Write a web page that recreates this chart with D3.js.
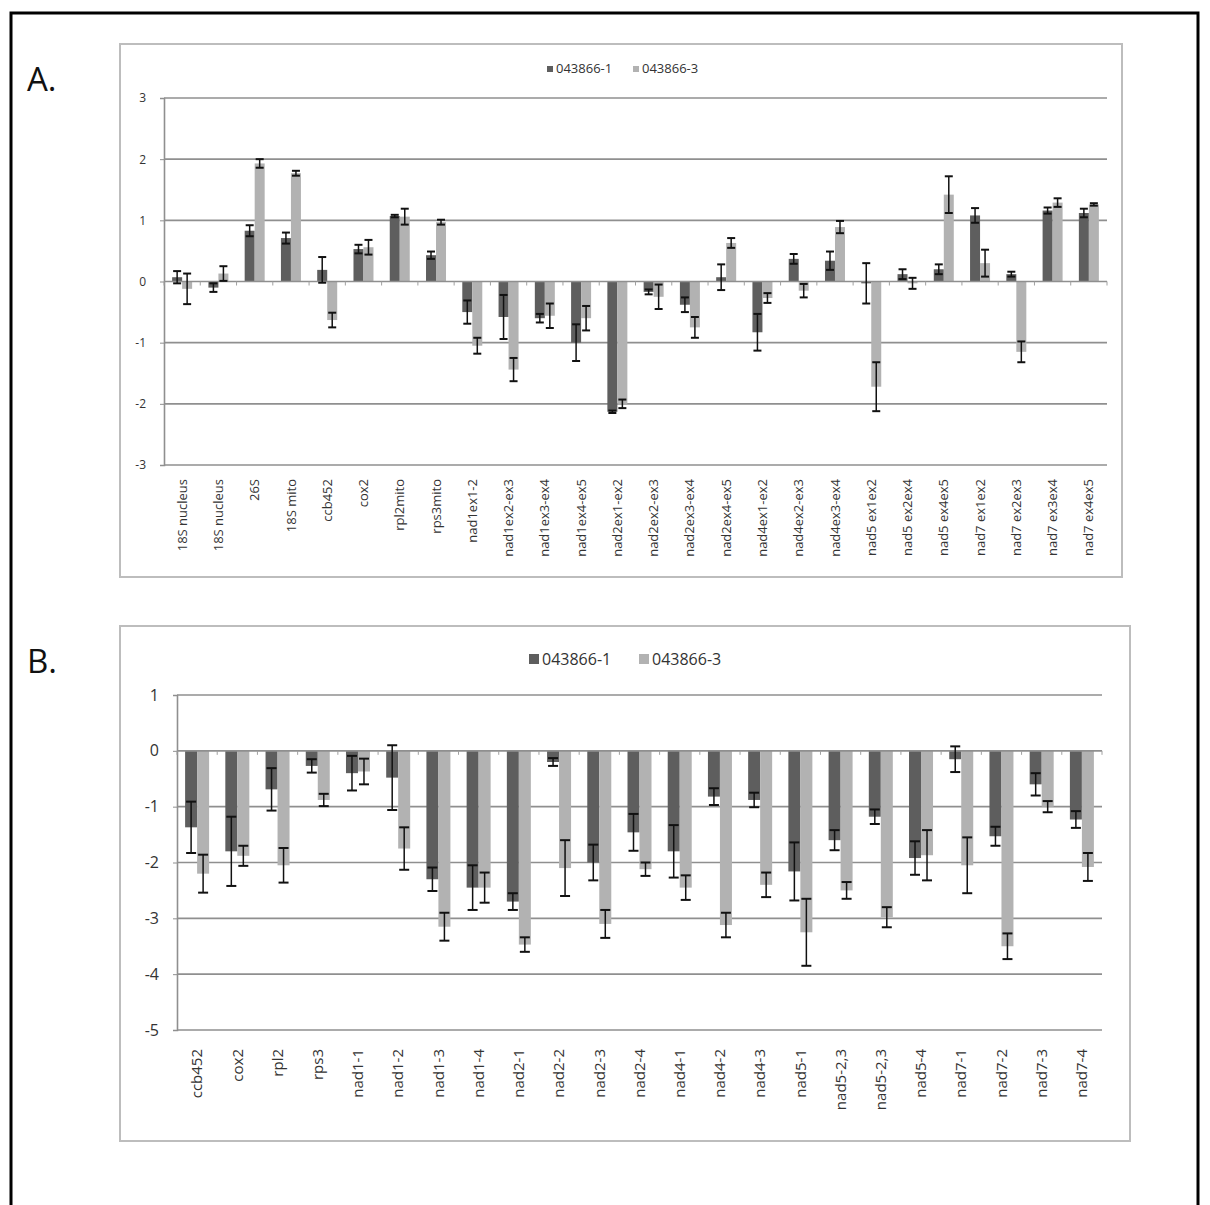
<!DOCTYPE html>
<html>
<head>
<meta charset="utf-8">
<script src="https://cdn.jsdelivr.net/npm/d3@7"></script>
<style>
  body { margin: 0; background: #fff; }
  svg { display: block; }
  text { font-family: "Open Sans", "Noto Sans", sans-serif; fill: #333; }
</style>
</head>
<body>
<div id="fig"></div>
<script>
'use strict';

// ---- data, panel A ----
var seriesNames = ['043866-1', '043866-3'];

var catsA = ['18S nucleus', '18S nucleus', '26S', '18S mito', 'ccb452', 'cox2', 'rpl2mito', 'rps3mito',
  'nad1ex1-2', 'nad1ex2-ex3', 'nad1ex3-ex4', 'nad1ex4-ex5', 'nad2ex1-ex2', 'nad2ex2-ex3', 'nad2ex3-ex4',
  'nad2ex4-ex5', 'nad4ex1-ex2', 'nad4ex2-ex3', 'nad4ex3-ex4', 'nad5 ex1ex2', 'nad5 ex2ex4', 'nad5 ex4ex5',
  'nad7 ex1ex2', 'nad7 ex2ex3', 'nad7 ex3ex4', 'nad7 ex4ex5'];
var darkA = [0.07, -0.1, 0.83, 0.71, 0.19, 0.53, 1.07, 0.43, -0.5, -0.58, -0.6, -1.0, -2.13, -0.17, -0.38,
  0.07, -0.83, 0.37, 0.34, -0.03, 0.12, 0.2, 1.08, 0.12, 1.16, 1.12];
var darkErrA = [0.1, 0.07, 0.09, 0.09, 0.21, 0.07, 0.02, 0.06, 0.19, 0.36, 0.07, 0.3, 0.02, 0.04, 0.12,
  0.21, 0.3, 0.08, 0.15, 0.33, 0.08, 0.08, 0.12, 0.04, 0.05, 0.07];
var lightA = [-0.12, 0.13, 1.93, 1.77, -0.63, 0.56, 1.06, 0.97, -1.05, -1.44, -0.56, -0.6, -2.0, -0.25, -0.75,
  0.63, -0.27, -0.15, 0.89, -1.72, -0.03, 1.42, 0.3, -1.15, 1.29, 1.26];
var lightErrA = [0.25, 0.12, 0.07, 0.04, 0.12, 0.12, 0.13, 0.04, 0.13, 0.19, 0.2, 0.2, 0.07, 0.2, 0.17,
  0.08, 0.08, 0.11, 0.1, 0.4, 0.09, 0.3, 0.22, 0.17, 0.07, 0.02];
var ticksA = [-3, -2, -1, 0, 1, 2, 3];

// ---- data, panel B ----
var catsB = ['ccb452', 'cox2', 'rpl2', 'rps3', 'nad1-1', 'nad1-2', 'nad1-3', 'nad1-4', 'nad2-1', 'nad2-2',
  'nad2-3', 'nad2-4', 'nad4-1', 'nad4-2', 'nad4-3', 'nad5-1', 'nad5-2,3', 'nad5-2,3', 'nad5-4', 'nad7-1',
  'nad7-2', 'nad7-3', 'nad7-4'];
var darkB = [-1.37, -1.8, -0.69, -0.27, -0.4, -0.48, -2.3, -2.45, -2.7, -0.2, -2.0, -1.46, -1.8, -0.82,
  -0.88, -2.16, -1.6, -1.18, -1.92, -0.15, -1.53, -0.6, -1.23];
var darkErrB = [0.46, 0.62, 0.38, 0.12, 0.31, 0.58, 0.21, 0.4, 0.15, 0.07, 0.32, 0.33, 0.47, 0.15,
  0.13, 0.52, 0.18, 0.13, 0.3, 0.23, 0.17, 0.2, 0.15];
var lightB = [-2.2, -1.88, -2.05, -0.88, -0.37, -1.75, -3.15, -2.45, -3.47, -2.1, -3.1, -2.12, -2.45, -3.12,
  -2.4, -3.25, -2.5, -2.98, -1.87, -2.05, -3.5, -1.0, -2.08];
var lightErrB = [0.34, 0.18, 0.31, 0.11, 0.23, 0.38, 0.25, 0.27, 0.13, 0.5, 0.25, 0.12, 0.22, 0.22,
  0.22, 0.6, 0.15, 0.18, 0.45, 0.5, 0.23, 0.1, 0.25];
var ticksB = [-5, -4, -3, -2, -1, 0, 1];

var colors = ['#5e5e5e', '#b2b2b2'];

var svg = d3.select('#fig').append('svg')
  .attr('width', 1210)
  .attr('height', 1205);

// outer black frame
svg.append('rect')
  .attr('x', 11).attr('y', 13)
  .attr('width', 1187).attr('height', 1210)
  .attr('fill', 'none')
  .attr('stroke', '#000')
  .attr('stroke-width', 3);

function drawPanel(p) {

  var g = svg.append('g');

  // chart box
  g.append('rect')
    .attr('x', p.box[0]).attr('y', p.box[1])
    .attr('width', p.box[2]).attr('height', p.box[3])
    .attr('fill', '#fff')
    .attr('stroke', '#bdbdbd')
    .attr('stroke-width', 2);

  g.append('text')
    .attr('x', 27).attr('y', p.letterY)
    .style('font-size', '33px')
    .style('fill', '#111')
    .text(p.letter);

  var idx = d3.range(p.cats.length);
  var x = d3.scaleBand().domain(idx).range([p.left, p.right]).padding(0);
  var xs = d3.scaleBand().domain([0, 1])
    .range([x.bandwidth() / 2 - p.barW, x.bandwidth() / 2 + p.barW]);
  var y = d3.scaleLinear().domain(p.domain).range([p.bottom, p.top]);

  // gridlines
  g.append('g').selectAll('line')
    .data(p.ticks.filter(function(t) { return t !== 0; }))
    .enter().append('line')
    .attr('x1', p.left).attr('x2', p.right)
    .attr('y1', function(d) { return y(d); })
    .attr('y2', function(d) { return y(d); })
    .attr('stroke', '#8f8f8f')
    .attr('stroke-width', 1.6);

  // y axis (plain hyphen minus, as in the source figure)
  var yAxis = g.append('g')
    .attr('transform', 'translate(' + p.left + ',0)')
    .call(d3.axisLeft(y).tickValues(p.ticks).tickSize(4).tickPadding(p.tickPad)
      .tickFormat(function(d) { return String(d); }));
  yAxis.select('.domain').attr('stroke', '#8f8f8f').attr('stroke-width', 1.6);
  yAxis.selectAll('.tick line').attr('stroke', '#8f8f8f');
  yAxis.selectAll('text')
    .style('font-family', '"Open Sans", sans-serif')
    .style('font-size', p.tickFont + 'px')
    .style('fill', '#333');

  var series = [
    { vals: p.dark, errs: p.darkErr, s: 0 },
    { vals: p.light, errs: p.lightErr, s: 1 }
  ];

  series.forEach(function(sr) {
    var rows = idx.map(function(i) { return { i: i, v: sr.vals[i], e: sr.errs[i] }; });

    g.append('g').selectAll('rect')
      .data(rows)
      .enter().append('rect')
      .attr('x', function(d) { return x(d.i) + xs(sr.s); })
      .attr('width', xs.bandwidth())
      .attr('y', function(d) { return y(Math.max(0, d.v)); })
      .attr('height', function(d) { return Math.abs(y(d.v) - y(0)); })
      .attr('fill', colors[sr.s]);
  });

  // zero axis with small ticks at category borders
  g.append('line')
    .attr('x1', p.left).attr('x2', p.right)
    .attr('y1', y(0)).attr('y2', y(0))
    .attr('stroke', '#8f8f8f').attr('stroke-width', 1.6);
  g.append('g').selectAll('line')
    .data(d3.range(p.cats.length + 1))
    .enter().append('line')
    .attr('x1', function(d) { return p.left + d * x.step(); })
    .attr('x2', function(d) { return p.left + d * x.step(); })
    .attr('y1', y(0)).attr('y2', y(0) + 4)
    .attr('stroke', '#a0a0a0').attr('stroke-width', 1);

  // error bars
  series.forEach(function(sr) {
    var rows = idx.map(function(i) { return { i: i, v: sr.vals[i], e: sr.errs[i] }; });
    var eg = g.append('g').selectAll('g')
      .data(rows)
      .enter().append('g')
      .attr('transform', function(d) {
        return 'translate(' + (x(d.i) + xs(sr.s) + xs.bandwidth() / 2) + ',0)';
      });
    eg.append('line')
      .attr('y1', function(d) { return y(d.v + d.e); })
      .attr('y2', function(d) { return y(d.v - d.e); })
      .attr('stroke', '#111').attr('stroke-width', 1.5);
    [1, -1].forEach(function(sign) {
      eg.append('line')
        .attr('x1', -p.capW).attr('x2', p.capW)
        .attr('y1', function(d) { return y(d.v + sign * d.e); })
        .attr('y2', function(d) { return y(d.v + sign * d.e); })
        .attr('stroke', '#111').attr('stroke-width', 2);
    });
  });

  // category labels
  g.append('g').selectAll('text')
    .data(idx)
    .enter().append('text')
    .attr('transform', function(i) {
      return 'translate(' + (x(i) + x.bandwidth() / 2) + ',' + p.labelTop + ') rotate(-90)';
    })
    .attr('text-anchor', 'end')
    .attr('dy', '0.35em')
    .style('font-size', p.labelFont + 'px')
    .text(function(i) { return p.cats[i]; });

  // legend
  var lg = g.append('g');
  seriesNames.forEach(function(name, k) {
    lg.append('rect')
      .attr('x', p.legendX[k]).attr('y', p.legendY - p.legendSq)
      .attr('width', p.legendSq).attr('height', p.legendSq)
      .attr('fill', colors[k]);
    lg.append('text')
      .attr('x', p.legendX[k] + p.legendSq + 3)
      .attr('y', p.legendY + 1)
      .style('font-size', p.legendFont + 'px')
      .text(name);
  });
}

drawPanel({
  letter: 'A.', letterY: 91,
  box: [120, 44, 1002, 533],
  left: 164, right: 1107, top: 98, bottom: 465, domain: [-3, 3], ticks: ticksA,
  cats: catsA, dark: darkA, darkErr: darkErrA, light: lightA, lightErr: lightErrA,
  barW: 10, capW: 4,
  tickFont: 12, tickPad: 14, labelFont: 13, labelTop: 479,
  legendX: [547, 633], legendY: 72, legendSq: 6, legendFont: 13
});

drawPanel({
  letter: 'B.', letterY: 673,
  box: [120, 626, 1010, 515],
  left: 177, right: 1102, top: 695, bottom: 1030, domain: [-5, 1], ticks: ticksB,
  cats: catsB, dark: darkB, darkErr: darkErrB, light: lightB, lightErr: lightErrB,
  barW: 12, capW: 5,
  tickFont: 16, tickPad: 14, labelFont: 15, labelTop: 1049,
  legendX: [529, 639], legendY: 664, legendSq: 10, legendFont: 16
});
</script>
</body>
</html>
